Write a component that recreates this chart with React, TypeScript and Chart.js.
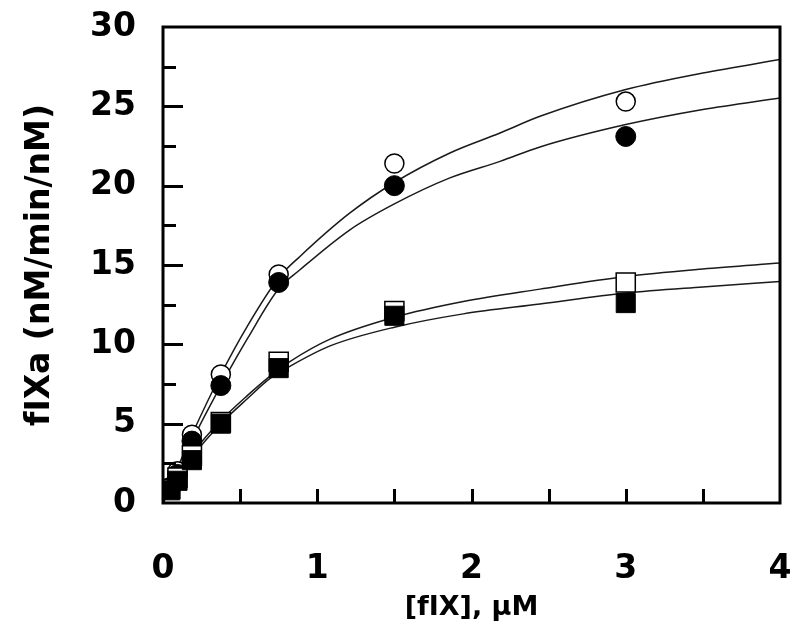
import React, { useEffect, useRef } from "react";
import { Chart, registerables } from "chart.js";

Chart.register(...registerables);

// Substrate concentrations (µM)
const pointX = [0.047, 0.094, 0.1875, 0.375, 0.75, 1.5, 3];
// Measured rates (nM/min/nM)
const openCircle = [1.0, 2.0, 4.3, 8.1, 14.4, 21.4, 25.3];
const filledCircle = [0.9, 1.8, 3.9, 7.4, 13.9, 20.0, 23.1];
const openSquare = [0.9, 1.6, 3.0, 5.1, 8.9, 12.1, 13.9];
const filledSquare = [0.8, 1.4, 2.7, 5.0, 8.5, 11.8, 12.6];

// Fitted curves
const circleCurveX = [0, 0.047, 0.094, 0.1875, 0.375, 0.55, 0.75, 0.888, 1.212, 1.5, 1.86, 2.185, 2.444, 3, 3.5, 4];
const openCircleCurve = [0, 1.1, 2.2, 4.3, 8.1, 11.2, 14.2, 15.54, 18.28, 20.2, 22.06, 23.32, 24.37, 26.06, 27.1, 27.95];
const filledCircleCurve = [0, 1.0, 1.9, 3.9, 7.4, 10.4, 13.5, 14.7, 17.22, 18.85, 20.49, 21.53, 22.44, 23.85, 24.8, 25.53];
const squareCurveX = [0, 0.094, 0.1875, 0.375, 0.55, 0.694, 0.82, 1.083, 1.5, 1.947, 2.444, 3, 3.5, 4];
const openSquareCurve = [0, 1.8, 3.1, 5.2, 6.8, 8.0, 8.9, 10.33, 11.71, 12.7, 13.48, 14.28, 14.75, 15.12];
const filledSquareCurve = [0, 1.6, 2.9, 5.0, 6.6, 7.85, 8.6, 9.9, 11.08, 11.92, 12.54, 13.23, 13.62, 13.96];

// Axis ticks
const xMin = 0, xMax = 4, xStep = 1, xMinorStep = 0.5;
const yMin = 0, yMax = 30, yStep = 5, yMinorStep = 2.5;
const xTitle = "[fIX], µM";
const yTitle = "fIXa (nM/min/nM)";

const zip = (xs: number[], ys: number[]) => xs.map((x, i) => ({ x, y: ys[i] }));

const frameTicks = {
  id: "frameTicks",
  afterDatasetsDraw(chart: any) {
    const { ctx, chartArea, scales } = chart;
    const { left, right, top, bottom } = chartArea;
    const xs = scales.x, ys = scales.y;
    ctx.save();
    ctx.strokeStyle = "#000";
    ctx.lineWidth = 3;
    ctx.lineCap = "butt";
    ctx.beginPath();
    for (let v = xMin + xMinorStep; v < xMax - 1e-9; v += xMinorStep) {
      const px = Math.round(xs.getPixelForValue(v)) + 0.5;
      ctx.moveTo(px, bottom);
      ctx.lineTo(px, bottom - 14);
    }
    for (let v = yMin + yMinorStep; v < yMax - 1e-9; v += yMinorStep) {
      const py = Math.round(ys.getPixelForValue(v)) + 0.5;
      const major = Math.abs(v / yStep - Math.round(v / yStep)) < 1e-6;
      ctx.moveTo(left, py);
      ctx.lineTo(left + (major ? 20 : 13), py);
    }
    ctx.stroke();
    ctx.strokeRect(left, top, right - left, bottom - top);
    ctx.restore();
  },
};

export default function App() {
  const ref = useRef<HTMLCanvasElement | null>(null);
  useEffect(() => {
    if (!ref.current) return;
    const lineStyle = {
      type: "line" as const,
      showLine: true,
      borderColor: "#1a1a1a",
      borderWidth: 1.5,
      pointRadius: 0,
      fill: false,
      cubicInterpolationMode: "monotone" as const,
    };
    const tickFont = { family: "DejaVu Sans", weight: "bold" as const, size: 33 };
    const chart = new Chart(ref.current, {
      type: "scatter",
      data: {
        datasets: [
          { ...lineStyle, label: "fit open circles", data: zip(circleCurveX, openCircleCurve), order: 10 },
          { ...lineStyle, label: "fit filled circles", data: zip(circleCurveX, filledCircleCurve), order: 10 },
          { ...lineStyle, label: "fit open squares", data: zip(squareCurveX, openSquareCurve), order: 10 },
          { ...lineStyle, label: "fit filled squares", data: zip(squareCurveX, filledSquareCurve), order: 10 },
          {
            label: "open circles", data: zip(pointX, openCircle), order: 6,
            pointStyle: "circle", pointRadius: 9.5, backgroundColor: "#fff", borderColor: "#000", borderWidth: 1.5,
          },
          {
            label: "filled circles", data: zip(pointX, filledCircle), order: 5,
            pointStyle: "circle", pointRadius: 10, backgroundColor: "#000", borderColor: "#000", borderWidth: 1,
          },
          {
            label: "open squares", data: zip(pointX, openSquare), order: 4,
            pointStyle: "rect", pointRadius: 13.5, backgroundColor: "#fff", borderColor: "#000", borderWidth: 1.5,
          },
          {
            label: "filled squares", data: zip(pointX, filledSquare), order: 3,
            pointStyle: "rect", pointRadius: 13.5, backgroundColor: "#000", borderColor: "#000", borderWidth: 1,
          },
        ],
      },
      options: {
        responsive: false,
        animation: false,
        events: [],
        layout: { padding: { top: 27, right: 20, left: 0, bottom: 0 } },
        plugins: { legend: { display: false }, tooltip: { enabled: false } },
        scales: {
          x: {
            type: "linear",
            min: xMin,
            max: xMax,
            afterFit: (s: any) => { s.height = 136; },
            grid: { display: false, drawTicks: true, tickLength: 47 },
            border: { display: false },
            ticks: { stepSize: xStep, color: "#000", font: tickFont, padding: 0, maxRotation: 0 },
            title: {
              display: true,
              text: xTitle,
              color: "#000",
              font: { family: "DejaVu Sans", weight: "bold", size: 27 },
              padding: { top: 0, bottom: 15 },
            },
          },
          y: {
            type: "linear",
            min: yMin,
            max: yMax,
            afterFit: (s: any) => { s.width = 163; },
            grid: { display: false, drawTicks: true, tickLength: 27 },
            border: { display: false },
            ticks: { stepSize: yStep, color: "#000", font: tickFont, padding: 0 },
            title: {
              display: true,
              text: yTitle,
              color: "#000",
              font: { family: "DejaVu Sans", weight: "bold", size: 33 },
              padding: { top: 21, bottom: 0 },
            },
          },
        },
      },
      plugins: [frameTicks],
    });
    return () => chart.destroy();
  }, []);
  return (
    <div style={{ position: "fixed", left: 0, top: 0, width: 800, height: 639, background: "#fff" }}>
      <canvas ref={ref} width={800} height={639} style={{ display: "block" }} />
    </div>
  );
}
